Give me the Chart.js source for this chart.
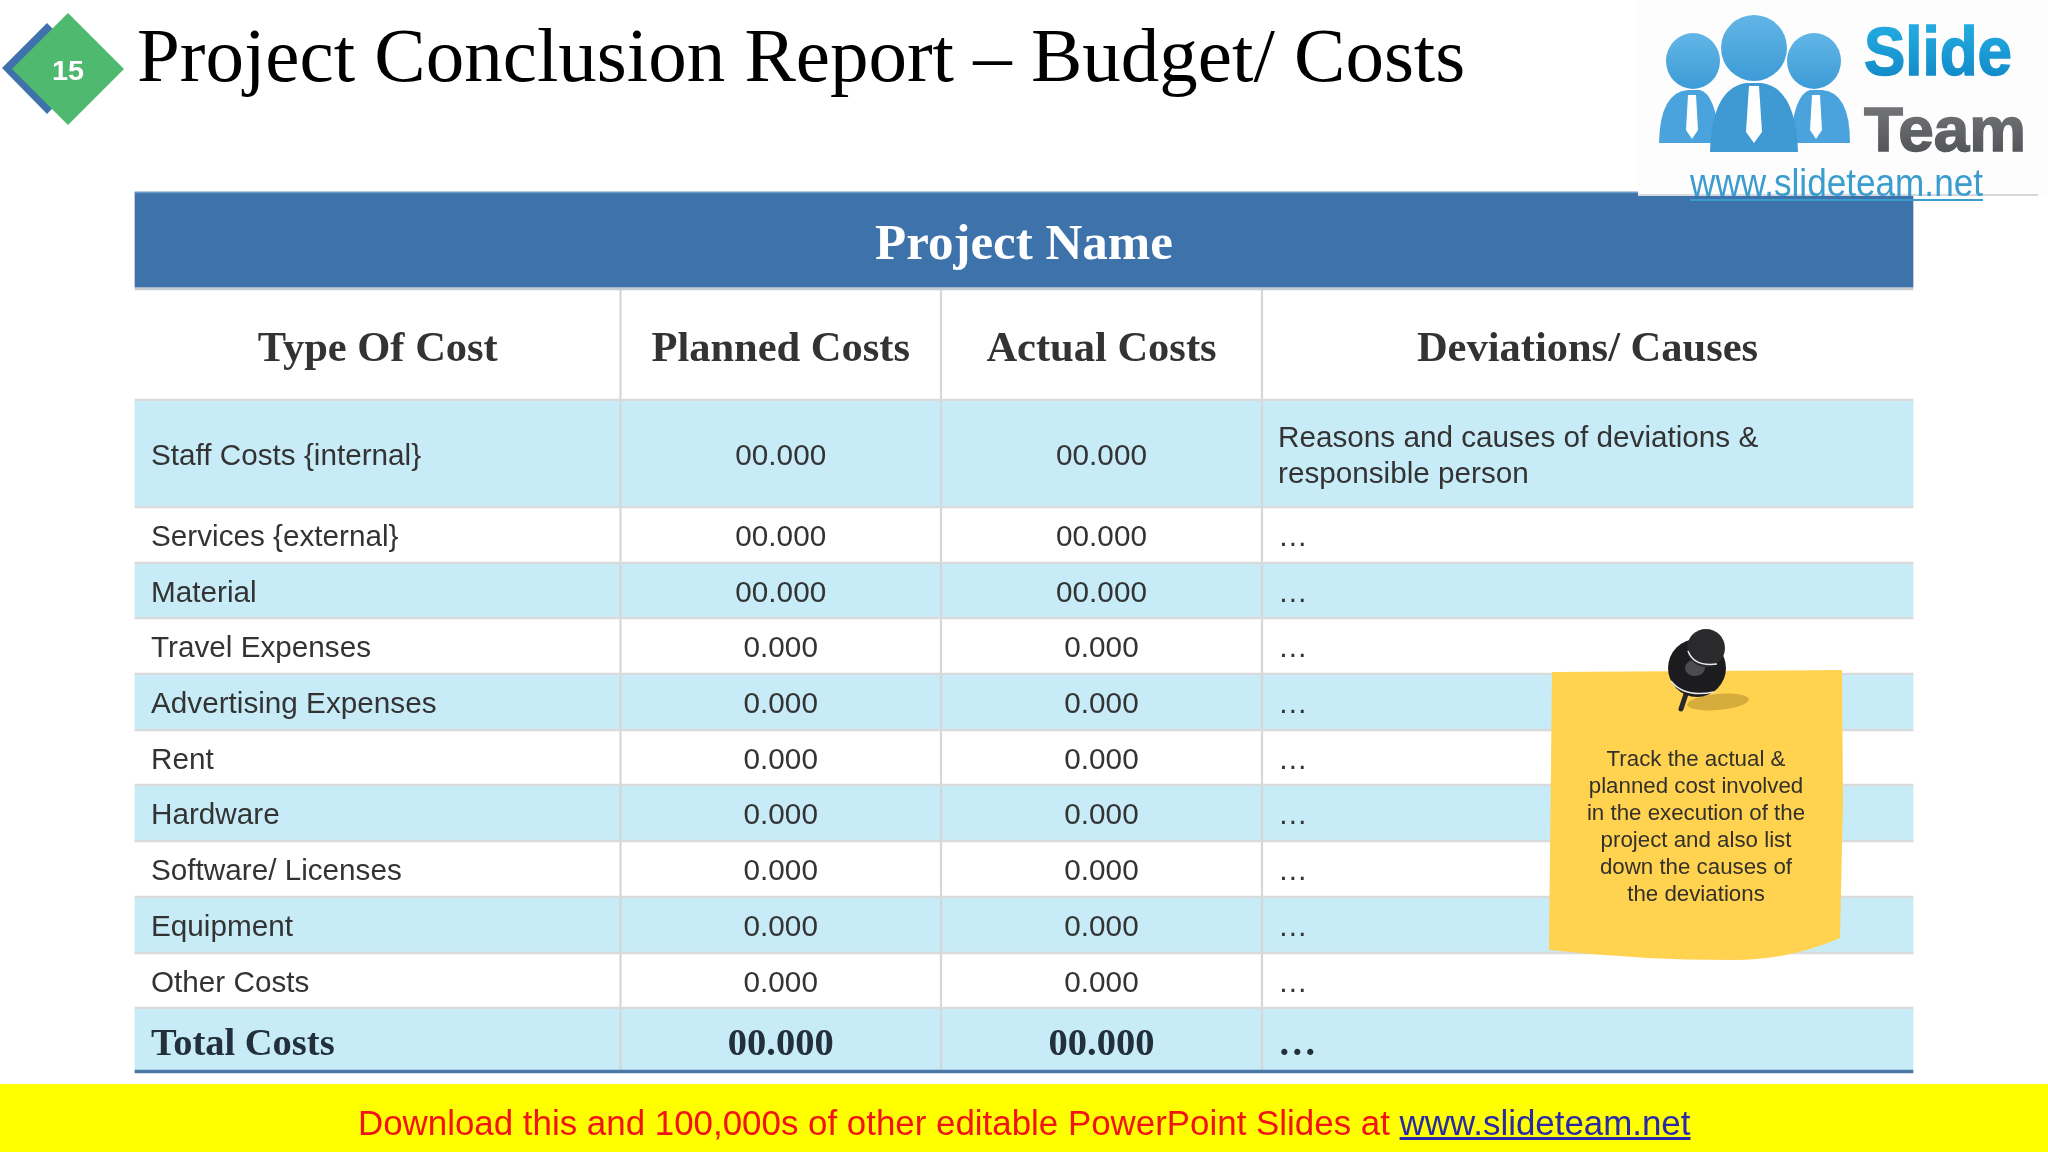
<!DOCTYPE html>
<html>
<head>
<meta charset="utf-8">
<title>Project Conclusion Report</title>
<script src="https://cdn.jsdelivr.net/npm/chart.js@4"></script>
<style>
  html, body { margin: 0; padding: 0; background: #fff; }
  #page { position: relative; width: 2048px; height: 1152px; overflow: hidden; background: #fff; }
  #myChart { position: absolute; left: 0; top: 0; }
  #art { position: absolute; left: 0; top: 0; }
  #title {
    position: absolute; left: 137px; top: 11px; white-space: nowrap;
    font: 77px "Liberation Serif"; color: #000;
  }
  #banner {
    position: absolute; left: 0; top: 1084px; width: 2048px; height: 68px; background: #ffff00;
  }
  #bannerText {
    position: absolute; left: 358px; top: 19px; white-space: nowrap;
    font: 34.9px "Liberation Sans"; color: #f01414;
  }
  #bannerText a { color: #2a2aa8; text-decoration: underline; }
</style>
</head>
<body>
<div id="page">
  <canvas id="myChart" width="2048" height="1152"></canvas>
  <svg id="art" width="2048" height="1152" viewBox="0 0 2048 1152">
    <defs>
      <linearGradient id="headFill" x1="0" y1="0" x2="0" y2="1">
        <stop offset="0" stop-color="#62b6e6"/>
        <stop offset="1" stop-color="#3d9bd6"/>
      </linearGradient>
      <linearGradient id="slideFill" x1="0" y1="0" x2="0" y2="1">
        <stop offset="0" stop-color="#27b2e6"/>
        <stop offset="1" stop-color="#0f84c4"/>
      </linearGradient>
      <linearGradient id="teamFill" x1="0" y1="0" x2="0" y2="1">
        <stop offset="0" stop-color="#7a7c80"/>
        <stop offset="1" stop-color="#4c4e52"/>
      </linearGradient>
    </defs>

    <!-- slide number badge -->
    <polygon points="47,23 2,68 47,114 92,68" fill="#3f72ab"/>
    <polygon points="68,13 124,69 68,125 12,69" fill="#4fb96f"/>
    <text x="68" y="80" text-anchor="middle" font-family="Liberation Sans" font-weight="bold" font-size="28" fill="#fff" textLength="32" lengthAdjust="spacingAndGlyphs">15</text>

    <!-- logo -->
    <rect x="1638" y="0" width="410" height="195" fill="#fdfdfd"/>
    <line x1="1638" y1="195" x2="2038" y2="195" stroke="#d5d8dc" stroke-width="2"/>
    <ellipse cx="1693" cy="61" rx="27" ry="28" fill="url(#headFill)"/>
    <ellipse cx="1814" cy="61" rx="27" ry="28" fill="url(#headFill)"/>
    <path d="M1659 143 Q1660 92 1688 90 L1700 90 Q1716 94 1720 143 Z" fill="#4aa3dc"/>
    <path d="M1790 143 Q1794 94 1810 90 L1822 90 Q1850 92 1850 143 Z" fill="#4aa3dc"/>
    <ellipse cx="1754" cy="48" rx="33" ry="33" fill="url(#headFill)"/>
    <path d="M1710 152 Q1712 88 1746 83 L1762 83 Q1796 88 1798 152 Z" fill="#3f9ad3"/>
    <polygon points="1688,95 1696,95 1698,130 1692,139 1686,130" fill="#fff"/>
    <polygon points="1812,95 1820,95 1822,130 1816,139 1810,130" fill="#fff"/>
    <polygon points="1749,86 1759,86 1762,132 1754,143 1746,132" fill="#fff"/>
    <text x="1864" y="75" font-family="Liberation Sans" font-weight="bold" font-size="69" fill="url(#slideFill)" stroke="url(#slideFill)" stroke-width="1.5" textLength="148" lengthAdjust="spacingAndGlyphs">Slide</text>
    <text x="1864" y="151" font-family="Liberation Sans" font-weight="bold" font-size="63" fill="url(#teamFill)" stroke="url(#teamFill)" stroke-width="1.5" textLength="162" lengthAdjust="spacingAndGlyphs">Team</text>
    <text x="1690" y="196" font-family="Liberation Sans" font-size="38" fill="#3a9ccf" textLength="293" lengthAdjust="spacingAndGlyphs">www.slideteam.net</text>
    <line x1="1690" y1="200" x2="1983" y2="200" stroke="#3a9ccf" stroke-width="2"/>

    <!-- sticky note -->
    <path d="M1552 672 L1842 670 L1843 800 L1840 938 Q1790 960 1733 960 Q1640 960 1549 950 Z" fill="#ffd34f"/>
    <ellipse cx="1718" cy="702" rx="31" ry="8" fill="#d6ac3c" transform="rotate(-5 1718 702)"/>
    <line x1="1686" y1="694" x2="1681" y2="709" stroke="#2a2a2c" stroke-width="5" stroke-linecap="round"/>
    <circle cx="1697" cy="668" r="29" fill="#1c1c1e"/>
    <path d="M1671 681 Q1684 698 1714 692" fill="none" stroke="#e8e8e8" stroke-width="1.5"/>
    <ellipse cx="1695" cy="668" rx="10" ry="8" fill="#4c4c50"/>
    <ellipse cx="1706" cy="648" rx="19" ry="19" fill="#2a2a2c"/>
    <path d="M1688 651 Q1694 667 1717 664" fill="none" stroke="#e8e8e8" stroke-width="1.5"/>
    <g font-family="Liberation Sans" font-size="22.3" fill="#33302a" text-anchor="middle">
      <text x="1696" y="766">Track the actual &amp;</text>
      <text x="1696" y="793">planned cost involved</text>
      <text x="1696" y="820">in the execution of the</text>
      <text x="1696" y="847">project and also list</text>
      <text x="1696" y="874">down the causes of</text>
      <text x="1696" y="901">the deviations</text>
    </g>
  </svg>
  <div id="title">Project Conclusion Report – Budget/ Costs</div>
  <div id="banner"><div id="bannerText">Download this and 100,000s of other editable PowerPoint Slides at <a>www.slideteam.net</a></div></div>
</div>

<script>
const tableName = "Project Name";
const columnHeads = ["Type Of Cost", "Planned Costs", "Actual Costs", "Deviations/ Causes"];
const categories = ["Staff Costs {internal}", "Services {external}", "Material", "Travel Expenses", "Advertising Expenses", "Rent", "Hardware", "Software/ Licenses", "Equipment", "Other Costs"];
const plannedCosts = ["00.000", "00.000", "00.000", "0.000", "0.000", "0.000", "0.000", "0.000", "0.000", "0.000"];
const actualCosts = ["00.000", "00.000", "00.000", "0.000", "0.000", "0.000", "0.000", "0.000", "0.000", "0.000"];
const deviations = [["Reasons and causes of deviations &", "responsible person"], ["…"], ["…"], ["…"], ["…"], ["…"], ["…"], ["…"], ["…"], ["…"]];
const totalRow = ["Total Costs", "00.000", "00.000", "…"];

// layout of the table on the slide, in slide pixels
const colEdges = [135, 620.5, 941, 1262, 1913];
const rowEdges = [400, 507, 563, 618, 674, 730, 785, 841, 897, 953, 1008, 1072];
const bandTop = 192;
const bandBottom = 287;

const bodyFont = '29.7px "Liberation Sans"';
const headFont = 'bold 42.5px "Liberation Serif"';
const totalFont = 'bold 38.5px "Liberation Serif"';

function center(a, b) {
  return (a + b) / 2;
}

const tableLeft = colEdges[0];
const tableRight = colEdges[colEdges.length - 1];
const datasets = [];

function addBar(top, bottom, left, right, color, order) {
  datasets.push({
    data: [{ x: [left, right], y: center(top, bottom) }],
    barThickness: bottom - top,
    backgroundColor: color,
    order: order,
  });
}

// banded rows: first row is blue, then every other one
for (let i = 0; i < rowEdges.length - 1; i++) {
  if (i % 2 === 0) {
    addBar(rowEdges[i], rowEdges[i + 1], tableLeft, tableRight, "#c8ecf7", 5);
  }
}
addBar(bandTop, bandBottom, tableLeft, tableRight, "#3e72ab", 4);
addBar(bandBottom, bandBottom + 3, tableLeft, tableRight, "#c6cbd2", 4);
addBar(bandTop, bandTop + 1, tableLeft, tableRight, "#6a9bc8", 3);
rowEdges.slice(0, -1).forEach((edge) => {
  addBar(edge - 1, edge + 1, tableLeft, tableRight, "#d8dadc", 3);
});
addBar(rowEdges[rowEdges.length - 1] - 2, rowEdges[rowEdges.length - 1] + 1, tableLeft, tableRight, "#4a76a8", 2);
colEdges.slice(1, -1).forEach((edge) => {
  addBar(bandBottom + 3, rowEdges[rowEdges.length - 1] - 2, edge - 0.75, edge + 0.75, "#d4d6d8", 3);
});

const tableText = {
  id: "tableText",
  afterDatasetsDraw(chart) {
    const ctx = chart.ctx;
    const xs = chart.scales.x;
    const ys = chart.scales.y;
    const left = (i) => xs.getPixelForValue(colEdges[i]);
    const mid = (i) => xs.getPixelForValue(center(colEdges[i], colEdges[i + 1]));
    const rowMid = (i) => ys.getPixelForValue(center(rowEdges[i], rowEdges[i + 1]) + 3);

    ctx.save();
    ctx.textBaseline = "middle";

    ctx.textAlign = "center";
    ctx.font = 'bold 51px "Liberation Serif"';
    ctx.fillStyle = "#ffffff";
    ctx.fillText(tableName, xs.getPixelForValue(1024), ys.getPixelForValue(246));

    ctx.font = headFont;
    ctx.fillStyle = "#333333";
    columnHeads.forEach((head, i) => {
      ctx.fillText(head, mid(i), ys.getPixelForValue(350));
    });

    ctx.font = bodyFont;
    for (let i = 0; i < categories.length; i++) {
      const y = rowMid(i);
      ctx.fillStyle = "#333333";
      ctx.textAlign = "left";
      ctx.fillText(categories[i], left(0) + 16, y);
      ctx.textAlign = "center";
      ctx.fillText(plannedCosts[i], mid(1), y);
      ctx.fillText(actualCosts[i], mid(2), y);
      ctx.textAlign = "left";
      const lines = deviations[i];
      lines.forEach((line, n) => {
        ctx.fillText(line, left(3) + 16, y + (n - (lines.length - 1) / 2) * 36);
      });
    }

    const y = rowMid(categories.length) + 2;
    ctx.font = totalFont;
    ctx.fillStyle = "#22303c";
    ctx.textAlign = "left";
    ctx.fillText(totalRow[0], left(0) + 16, y);
    ctx.textAlign = "center";
    ctx.fillText(totalRow[1], mid(1), y);
    ctx.fillText(totalRow[2], mid(2), y);
    ctx.textAlign = "left";
    ctx.fillText(totalRow[3], left(3) + 16, y);
    ctx.restore();
  },
};

const myChart = new Chart(document.getElementById("myChart").getContext("2d"), {
  type: "bar",
  data: { datasets },
  options: {
    indexAxis: "y",
    responsive: false,
    animation: false,
    devicePixelRatio: 1,
    layout: { padding: 0 },
    datasets: { bar: { grouped: false } },
    plugins: { legend: { display: false }, tooltip: { enabled: false }, title: { display: false } },
    scales: {
      x: { type: "linear", min: 0, max: 2048, display: false },
      y: { type: "linear", min: 0, max: 1152, reverse: true, offset: false, display: false },
    },
  },
  plugins: [tableText],
});
</script>
</body>
</html>
